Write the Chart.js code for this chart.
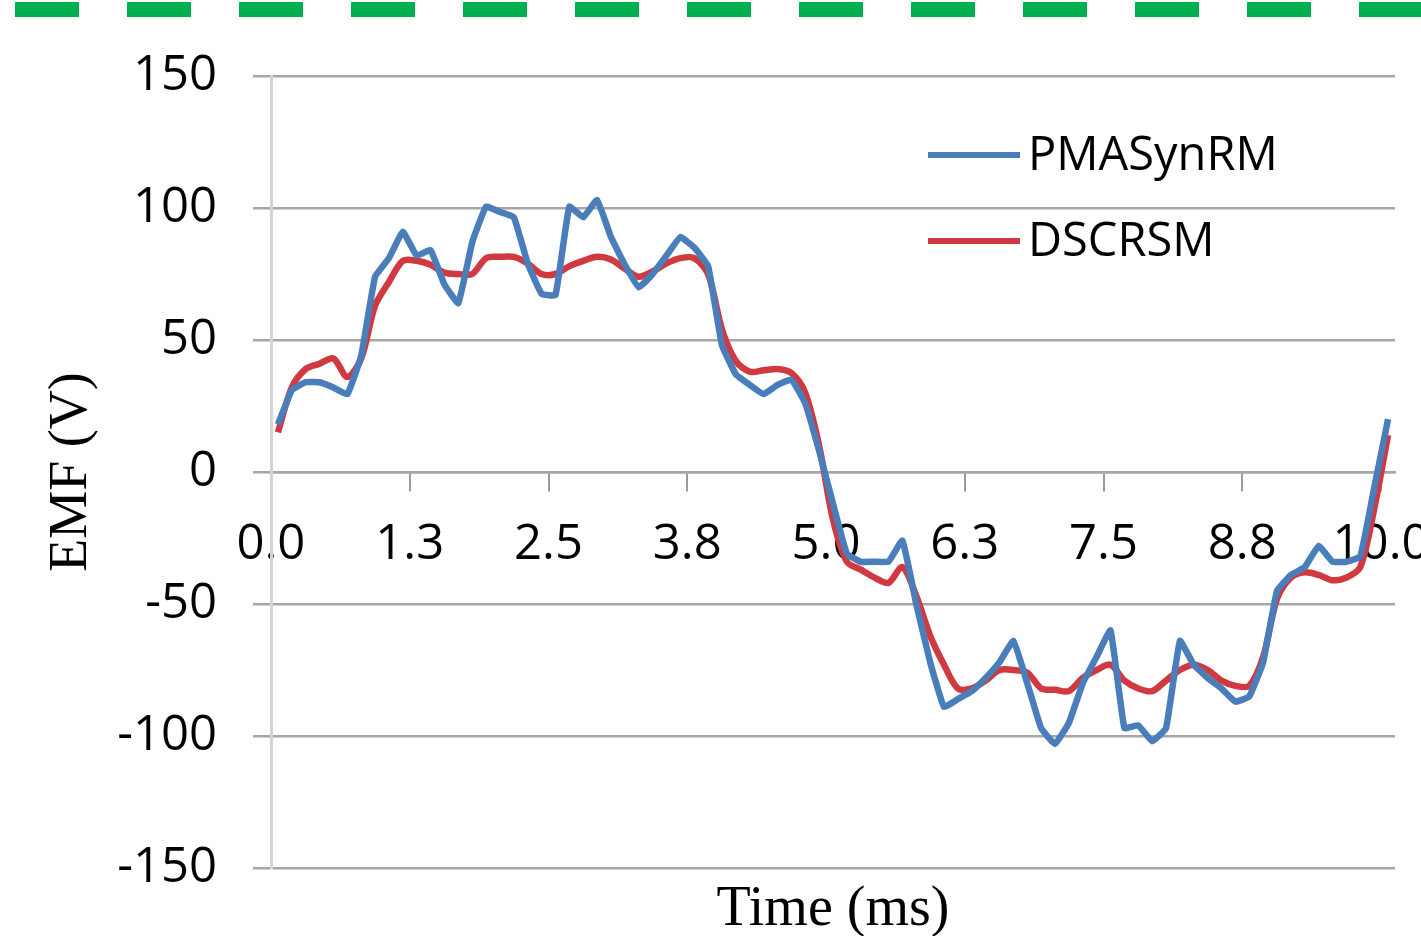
<!DOCTYPE html>
<html lang="en">
<head>
    <meta charset="UTF-8">
    <title>EMF comparison</title>
    <script src="https://cdn.jsdelivr.net/npm/chart.js"></script>
    <style>
        html, body { margin: 0; padding: 0; background: #fff; }
        .chart-container { position: relative; width: 1421px; height: 936px; }
    </style>
</head>
<body>
    <div class="chart-container">
        <canvas id="emfChart"></canvas>
    </div>

    <script>
        // sample times (ms), one category per sample
        const timeMs = [0, 0.125, 0.25, 0.375, 0.5, 0.625, 0.75, 0.875, 1, 1.125,
            1.25, 1.375, 1.5, 1.625, 1.75, 1.875, 2, 2.125, 2.25, 2.375,
            2.5, 2.625, 2.75, 2.875, 3, 3.125, 3.25, 3.375, 3.5, 3.625,
            3.75, 3.875, 4, 4.125, 4.25, 4.375, 4.5, 4.625, 4.75, 4.875,
            5, 5.125, 5.25, 5.375, 5.5, 5.625, 5.75, 5.875, 6, 6.125,
            6.25, 6.375, 6.5, 6.625, 6.75, 6.875, 7, 7.125, 7.25, 7.375,
            7.5, 7.625, 7.75, 7.875, 8, 8.125, 8.25, 8.375, 8.5, 8.625,
            8.75, 8.875, 9, 9.125, 9.25, 9.375, 9.5, 9.625, 9.75, 9.875, 10];

        const seriesNames = ["PMASynRM", "DSCRSM"];

        const pmasynrmEmf = [18, 31, 34, 34, 32, 29.5, 44, 74, 81, 91,
            82, 84, 71, 64, 87, 100.5, 98.5, 96.5, 79, 67.5,
            67, 100.5, 96.5, 103, 89, 78.5, 70, 75, 82, 89,
            85, 78, 48, 37, 33, 29.5, 33, 35, 26, 8,
            -12, -31, -34, -34, -34, -26, -50, -72, -89, -86,
            -83, -78, -72, -64, -80, -97, -103, -95, -80, -70,
            -60, -97, -96, -102, -97, -64, -73, -78, -82, -87,
            -85, -72, -45, -39, -36, -28, -34, -34, -32, -6, 20];

        const dscrsmEmf = [15, 32, 39, 41, 43, 36, 43, 63, 72, 80,
            80, 78.5, 75.5, 75, 75, 81, 81.5, 81.5, 79, 75,
            75, 78, 80, 81.5, 80.5, 77, 74, 76, 79, 81,
            81, 75, 54, 42, 38, 38.5, 39, 37.5, 30, 10,
            -18, -34, -37, -40, -42, -36, -47, -62, -73, -82,
            -82, -79, -75, -75, -76, -82, -82.5, -83, -78, -75,
            -73, -79, -82, -83, -79, -75, -73, -75, -79, -81,
            -81, -70, -48, -40, -38, -39, -41, -40, -36, -14, 14];

        const labelEvery = 10;
        const yTicks = [-150, -100, -50, 0, 50, 100, 150];

        const labelFont = "'Open Sans', sans-serif";
        const titleFont = "'Liberation Serif', 'Times New Roman', serif";

        // green dashed rule across the top + axis titles + legend inside the plot
        const decorPlugin = {
            id: "decor",
            beforeDraw(chart) {
                const ctx = chart.ctx;
                ctx.save();
                ctx.fillStyle = "#fff";
                ctx.fillRect(0, 0, chart.width, chart.height);
                ctx.strokeStyle = "#00b050";
                ctx.lineWidth = 15;
                ctx.setLineDash([64, 48]);
                ctx.beginPath();
                ctx.moveTo(15, 9.5);
                ctx.lineTo(chart.width, 9.5);
                ctx.stroke();
                ctx.restore();
            },
            afterDraw(chart) {
                const ctx = chart.ctx;
                const area = chart.chartArea;
                ctx.save();
                ctx.fillStyle = "#000";
                ctx.font = "56px " + titleFont;
                ctx.textAlign = "center";
                ctx.textBaseline = "middle";
                ctx.fillText("Time (ms)", (area.left + area.right) / 2, 910);
                ctx.font = "54px " + titleFont;
                ctx.translate(72, (area.top + area.bottom) / 2);
                ctx.rotate(-Math.PI / 2);
                ctx.fillText("EMF (V)", 0, 0);
                ctx.restore();

                // legend
                ctx.save();
                ctx.font = "47px " + labelFont;
                ctx.textAlign = "left";
                ctx.textBaseline = "middle";
                ctx.lineCap = "butt";
                chart.data.datasets.forEach((ds, i) => {
                    const y = 155 + i * 86;
                    ctx.strokeStyle = ds.borderColor;
                    ctx.lineWidth = 6;
                    ctx.beginPath();
                    ctx.moveTo(928, y);
                    ctx.lineTo(1020, y);
                    ctx.stroke();
                    ctx.fillStyle = "#000";
                    ctx.fillText(ds.label, 1028, y + 2);
                });
                ctx.restore();
            }
        };

        new Chart(document.getElementById("emfChart"), {
            type: "line",
            data: {
                labels: timeMs,
                datasets: [{
                    label: seriesNames[0],
                    data: pmasynrmEmf,
                    borderColor: "#4a7ebb",
                    borderWidth: 6.5,
                    pointRadius: 0,
                    tension: 0.1,
                    borderJoinStyle: "round"
                }, {
                    label: seriesNames[1],
                    data: dscrsmEmf,
                    borderColor: "#d0393f",
                    borderWidth: 6.5,
                    pointRadius: 0,
                    tension: 0.3,
                    borderJoinStyle: "round"
                }]
            },
            options: {
                responsive: true,
                maintainAspectRatio: false,
                animation: false,
                layout: { padding: { top: 76, right: 26, bottom: 68, left: 0 } },
                plugins: {
                    legend: { display: false },
                    tooltip: { enabled: false }
                },
                scales: {
                    x: {
                        type: "category",
                        position: { y: 0 },
                        offset: true,
                        // keep the last label from squeezing the plot, it runs off the edge like the original
                        afterFit: scale => { scale.paddingLeft = 0; scale.paddingRight = 0; },
                        grid: {
                            drawOnChartArea: false,
                            offset: true,
                            tickLength: 18,
                            lineWidth: 2,
                            color: c => c.index % labelEvery === 0 ? "#9a9a9a" : "rgba(0,0,0,0)"
                        },
                        border: { color: "#a6a6a6", width: 2.5 },
                        ticks: {
                            autoSkip: false,
                            maxRotation: 0,
                            minRotation: 0,
                            padding: 26,
                            labelOffset: -7,
                            color: "#000",
                            font: { family: labelFont, size: 49 },
                            callback: (value, index) => index % labelEvery === 0 ? timeMs[index].toFixed(1) : ""
                        }
                    },
                    y: {
                        min: yTicks[0],
                        max: yTicks[yTicks.length - 1],
                        afterFit: scale => { scale.width = 271; },
                        afterBuildTicks: scale => { scale.ticks = yTicks.map(v => ({ value: v })); },
                        grid: { color: "#a6a6a6", lineWidth: 2.5, tickLength: 18 },
                        border: { color: "#d4d4d4", width: 3 },
                        ticks: {
                            padding: 36,
                            color: "#000",
                            font: { family: labelFont, size: 49 }
                        }
                    }
                }
            },
            plugins: [decorPlugin]
        });
    </script>
</body>
</html>
